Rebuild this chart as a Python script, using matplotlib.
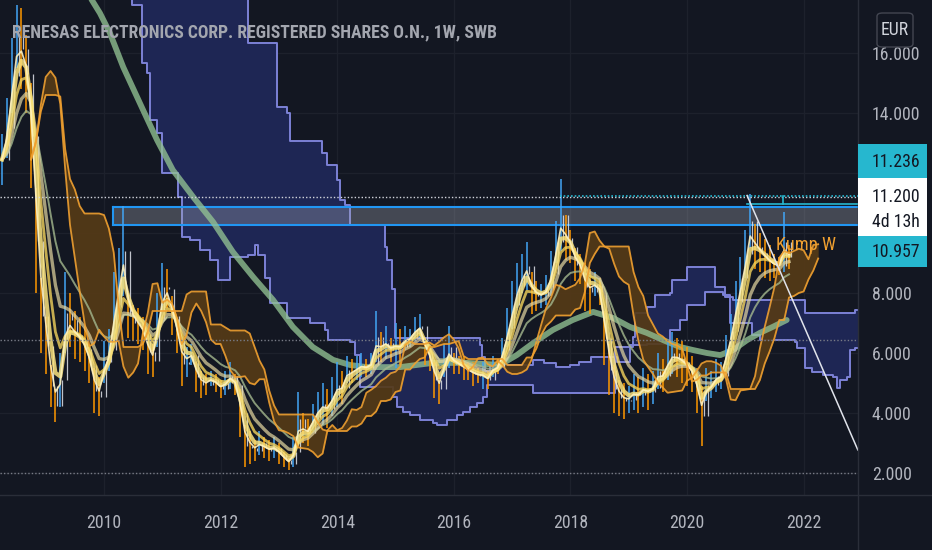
import numpy as np
import pandas as pd
import matplotlib
matplotlib.use("Agg")
import matplotlib.pyplot as plt
from matplotlib import font_manager
from matplotlib.font_manager import FontProperties
from matplotlib.patches import Rectangle, FancyBboxPatch

# ---- data --------------------------------------------------------------
# monthly bars, first one = April 2008
START = 2008.25
high = [13.3, 14.5, 16.5, 17.6, 17.5, 16.6, 15.0, 11.5, 8.5, 7.2, 5.6, 4.8,
        6.0, 8.7, 8.0, 7.4, 7.2, 6.9, 6.2, 5.5, 5.2, 6.4, 6.8, 8.7,
        9.5, 10.9, 8.0, 7.6, 7.5, 7.2, 6.8, 6.3, 8.0, 9.0, 8.8, 7.9,
        7.0, 6.4, 6.2, 6.3, 5.7, 5.4, 5.3, 5.4, 5.3, 5.1, 5.4, 5.7,
        5.3, 4.8, 3.6, 3.4, 3.1, 3.4, 3.2, 3.1, 3.2, 3.0, 2.7, 2.5,
        3.2, 4.7, 4.0, 3.8, 4.3, 4.7, 5.0, 4.8, 5.2, 5.7, 5.4, 5.9,
        5.8, 5.9, 6.0, 5.8, 6.0, 7.4, 6.7, 6.9, 6.5, 7.0, 6.8, 6.9,
        6.8, 7.2, 7.3, 6.5, 6.1, 5.7, 5.3, 6.3, 6.9, 6.0, 5.9, 5.9,
        5.7, 5.7, 5.5, 5.7, 5.4, 5.9, 5.8, 6.5, 7.5, 8.4, 9.0, 9.3,
        9.7, 8.7, 8.4, 8.3, 8.6, 9.4, 10.4, 11.8, 10.6, 10.1, 9.5, 9.3,
        9.0, 8.8, 8.7, 8.5, 7.4, 6.3, 5.6, 5.1, 5.0, 4.9, 5.3, 5.2,
        5.5, 5.3, 5.4, 6.0, 5.8, 6.4, 6.7, 6.5, 6.4, 6.2, 5.9, 5.5,
        4.9, 5.5, 5.4, 5.8, 5.7, 6.6, 7.3, 8.4, 9.2, 10.1, 11.3, 10.3,
        10.0, 9.8, 9.6, 9.3, 9.2, 10.7, 9.6]
low = [11.6, 12.5, 14.0, 15.5, 14.8, 14.0, 11.5, 8.0, 6.0, 5.3, 4.2, 3.7,
       4.2, 6.0, 6.2, 5.8, 5.7, 5.4, 5.0, 4.0, 3.9, 5.0, 5.4, 6.4,
       7.5, 7.9, 6.5, 6.4, 6.3, 6.1, 5.3, 5.2, 6.2, 7.4, 7.5, 6.6,
       6.0, 4.9, 5.2, 5.6, 4.7, 4.5, 4.6, 4.9, 4.7, 4.5, 4.6, 4.8,
       4.6, 3.2, 2.2, 2.3, 2.4, 2.6, 2.5, 2.4, 2.5, 2.3, 2.2, 2.1,
       2.2, 2.9, 3.0, 2.9, 3.4, 3.6, 3.6, 3.5, 3.9, 4.2, 4.3, 5.0,
       5.0, 5.1, 5.2, 5.2, 5.3, 5.7, 5.7, 5.8, 5.7, 5.5, 5.6, 6.1,
       6.2, 6.4, 6.5, 5.6, 5.4, 4.5, 4.3, 5.2, 5.5, 5.3, 5.3, 5.1,
       5.1, 4.9, 5.0, 4.8, 4.8, 5.2, 5.3, 5.7, 6.2, 6.8, 7.5, 8.0,
       8.1, 7.3, 7.4, 7.5, 7.6, 7.9, 9.0, 9.4, 9.1, 9.0, 8.4, 8.3,
       7.4, 7.3, 7.9, 7.6, 5.6, 4.6, 4.0, 3.9, 3.8, 4.0, 4.1, 4.0,
       4.2, 4.1, 4.3, 4.8, 4.7, 5.1, 5.3, 5.2, 5.0, 4.9, 4.7, 4.0,
       2.9, 4.4, 4.5, 4.7, 4.8, 5.6, 6.2, 7.0, 7.8, 8.5, 9.5, 8.8,
       8.7, 8.5, 8.4, 8.5, 8.6, 8.7, 8.8]

# long moving average (thick green)
green_x = [2009.67, 2009.79, 2009.93, 2010.10, 2010.33, 2010.67, 2010.91, 2011.18,
           2011.53, 2011.87, 2012.21, 2012.56, 2012.90, 2013.24, 2013.58, 2013.93,
           2014.22, 2014.51, 2015.08, 2015.64, 2016.23, 2016.79, 2017.08, 2017.36,
           2017.70, 2018.04, 2018.39, 2018.73, 2019.02, 2019.31, 2019.59, 2019.88,
           2020.10, 2020.34, 2020.57, 2020.79, 2021.03, 2021.25, 2021.47, 2021.71]
green_y = [18.27, 17.77, 17.33, 16.67, 15.53, 14.10, 13.10, 12.10,
           11.20, 10.37, 9.37, 8.53, 7.77, 6.87, 6.20, 5.77,
           5.60, 5.53, 5.53, 5.67, 5.67, 5.60, 5.93, 6.33,
           6.77, 7.10, 7.37, 7.17, 6.87, 6.67, 6.43, 6.20,
           6.10, 6.00, 5.93, 6.10, 6.43, 6.67, 6.87, 7.10]

# monthly cloud (step lines)
blue_top_x = [2008.0, 2012.47, 2012.97, 2013.14, 2013.19, 2013.74, 2013.83, 2014.0,
              2014.05, 2014.13, 2014.22, 2014.82, 2014.85, 2014.94, 2014.99, 2016.45,
              2016.48, 2016.54, 2016.62, 2017.36, 2017.55, 2017.75, 2018.0, 2018.15,
              2018.35, 2018.8, 2019.02, 2019.07, 2019.11, 2019.31, 2019.45, 2019.71,
              2019.74, 2020.0, 2020.48, 2020.65, 2020.79, 2022.02, 2022.88, 2023.0]
blue_top_y = [19.8, 16.33, 14.2, 14.0, 13.07, 12.67, 12.27, 11.77,
              11.1, 10.93, 10.27, 9.53, 9.1, 8.13, 6.5, 6.27,
              5.87, 5.4, 5.6, 5.77, 5.67, 5.53, 5.6, 5.7,
              5.87, 5.7, 6.2, 6.53, 7.33, 7.53, 7.93, 8.0,
              8.43, 8.87, 8.2, 7.87, 7.77, 7.33, 7.43, 7.43]
blue_bot_x = [2008.0, 2010.48, 2010.65, 2010.74, 2010.79, 2010.91, 2010.99, 2011.27,
              2011.34, 2011.48, 2011.65, 2011.82, 2011.96, 2012.16, 2012.47, 2012.59,
              2012.64, 2012.76, 2012.85, 2013.14, 2013.53, 2013.79, 2013.84, 2014.22,
              2014.31, 2014.39, 2014.96, 2015.03, 2015.13, 2015.25, 2015.42, 2015.64,
              2015.71, 2015.88, 2016.05, 2016.16, 2016.28, 2016.4, 2016.5, 2016.57,
              2017.36, 2018.77, 2019.02, 2019.31, 2019.66, 2019.71, 2019.88, 2020.0,
              2020.31, 2020.62, 2020.74, 2021.12, 2021.25, 2021.85, 2021.89, 2022.02,
              2022.14, 2022.33, 2022.5, 2022.57, 2022.62, 2022.74, 2022.8, 2022.88, 2023.0]
blue_bot_y = [19.0, 17.6, 15.67, 15.33, 13.77, 13.33, 12.0, 11.2,
              9.87, 9.77, 9.43, 9.1, 8.43, 9.2, 9.27, 9.6,
              9.27, 8.5, 7.67, 7.17, 7.0, 6.77, 6.43, 6.37,
              5.93, 4.87, 4.53, 4.2, 4.03, 3.93, 3.77, 3.67,
              3.6, 3.77, 3.93, 4.03, 4.2, 4.33, 4.53, 4.93,
              4.67, 6.2, 6.27, 6.3, 6.37, 6.77, 7.1, 7.6,
              8.03, 7.93, 7.0, 6.6, 6.43, 6.37, 6.17, 5.5,
              5.37, 5.27, 5.2, 4.83, 5.1, 5.2, 6.1, 6.17, 7.43]

zone_start, zone_lo, zone_hi = 2010.15, 10.27, 10.87
last_price, level_top, level_mid = 11.200, 11.236, 10.957
level_top_start, level_mid_start, marker_x = 2017.82, 2021.03, 2021.65
dotted_levels = [6.43, 2.0]
trend_x, trend_y = [2021.03, 2022.93], [11.25, 2.77]
year_ticks = [2010, 2012, 2014, 2016, 2018, 2020, 2022]
price_ticks = [2, 4, 6, 8, 10, 12, 14, 16]
hidden_ticks = [10, 12]
title = "RENESAS ELECTRONICS CORP. REGISTERED SHARES O.N., 1W, SWB"

# ---- style ---------------------------------------------------------------
W, H = 932, 550
BG = "#131722"
GRID = "#1d212c"
AXTXT = "#b2b5be"
CYAN = "#26b7cf"
BLUE = "#42a5f5"
ORANGE = "#ff9800"


def is_regular(f):
    return f.style == "normal" and f.weight in (400, "normal", "regular")


def pick_font():
    # a narrow face looks closest to the squeezed screenshot text
    entries = font_manager.fontManager.ttflist
    for want in ["Liberation Sans Narrow", "Roboto Condensed", "Open Sans Condensed",
                 "Noto Sans Condensed", "DejaVu Sans Condensed"]:
        for f in entries:
            if f.name == want and is_regular(f):
                return f
    for f in entries:
        if f.name in ("DejaVu Sans", "Noto Sans", "Roboto", "Open Sans") \
                and "condensed" in str(f.stretch) and is_regular(f):
            return f
    for f in entries:
        if ("Condensed" in f.name or "Narrow" in f.name) and f.style == "normal":
            return f
    return None


def bolder(base):
    # same family and width, heavier weight for the title
    if base is None:
        return FontProperties(family="DejaVu Sans", weight="bold")
    best = None
    for f in font_manager.fontManager.ttflist:
        if f.name == base.name and f.stretch == base.stretch and f.style == "normal":
            wt = f.weight if isinstance(f.weight, int) else {"bold": 700, "semibold": 600,
                                                             "medium": 500}.get(str(f.weight), 400)
            if 500 <= wt <= 700 and (best is None or abs(wt - 600) < abs(best[0] - 600)):
                best = (wt, f.fname)
    return FontProperties(fname=best[1]) if best else FontProperties(fname=base.fname)


BASE = pick_font()
FP = FontProperties(fname=BASE.fname) if BASE else FontProperties(family="DejaVu Sans")
FP_TITLE = bolder(BASE)

PX_YEAR = 58.3
X0 = 2008.216

fig = plt.figure(figsize=(W / 100, H / 100), dpi=100, facecolor=BG)
ax = fig.add_axes([0, 55 / H, 858 / W, 495 / H])
ax.set_facecolor(BG)
ax.set_xlim(X0, X0 + 858 / PX_YEAR)
ax.set_ylim(2 - 22 / 30, 2 + 473 / 30)
renderer = fig.canvas.get_renderer()


def fit_size(s, width_px, fp=FP):
    tmp = fig.text(0, 0, s, fontproperties=fp, fontsize=10)
    w = tmp.get_window_extent(renderer).width
    tmp.remove()
    return 10 * width_px / w


TICK_FS = min(fit_size("14.000", 48), 14)

# ---- blue (monthly) cloud -------------------------------------------------
def step_at(xs, ys, grid):
    idx = np.searchsorted(xs, grid, side="right") - 1
    return np.asarray(ys)[np.clip(idx, 0, len(ys) - 1)]

bx = np.array(sorted(set(blue_top_x) | set(blue_bot_x)))
ax.fill_between(bx, step_at(blue_top_x, blue_top_y, bx), step_at(blue_bot_x, blue_bot_y, bx),
                step="post", color="#1f2757", alpha=0.95, lw=0, zorder=1)
ax.step(blue_top_x, blue_top_y, where="post", color="#7c81d6", lw=1.4, zorder=2)
ax.step(blue_bot_x, blue_bot_y, where="post", color="#7c81d6", lw=1.4, zorder=2)

# ---- weekly kumo from the bars -------------------------------------------
hi = pd.Series(high, dtype=float)
lo = pd.Series(low, dtype=float)
t = START + np.arange(len(hi)) / 12

def donchian(n):
    return (hi.rolling(n, min_periods=1).max() + lo.rolling(n, min_periods=1).min()) / 2

span_a = (donchian(2) + donchian(6)) / 2
span_b = donchian(12)
t_kumo = t + 6 / 12
ax.fill_between(t_kumo, span_a, span_b, color="#553a17", alpha=0.92, lw=0, zorder=3)

# resistance zone
ax.add_patch(Rectangle((zone_start, zone_lo), 20, zone_hi - zone_lo, facecolor="#a9adb8",
                       alpha=0.33, edgecolor="none", zorder=4))
ax.plot([zone_start, 2030], [zone_hi, zone_hi], color="#2196f3", lw=1.5, zorder=4)
ax.plot([zone_start, 2030], [zone_lo, zone_lo], color="#2196f3", lw=1.5, zorder=4)
ax.plot([zone_start, zone_start], [zone_lo, zone_hi], color="#2196f3", lw=1.5, zorder=4)

# ---- moving averages -------------------------------------------------------
mid = (hi + lo) / 2
ax.plot(green_x, green_y, color="#92c293", lw=4.2, alpha=0.78, solid_capstyle="round", zorder=5)

# bars
opn = mid.shift(1).fillna(mid.iloc[0])
up = (mid >= opn).to_numpy()
ax.vlines(t, lo, hi, colors=np.where(up, BLUE, ORANGE), lw=1.1, zorder=6)
ax.vlines(t + 0.035, np.minimum(opn, mid), np.maximum(opn, mid), colors="#dfe2ea",
          lw=0.9, alpha=0.85, zorder=6)

def ema(n):
    return mid.ewm(span=n, adjust=False).mean()

ax.plot(t, ema(13), color="#a4b88e", lw=1.4, alpha=0.8, zorder=7)
ax.plot(t, ema(8), color="#e6d8a2", lw=2.4, alpha=0.7, zorder=7)
ax.plot(t, ema(5), color="#f3d35c", lw=2.0, alpha=0.8, zorder=7)
ax.plot(t, ema(3), color="#f9e27d", lw=3.0, alpha=0.85, zorder=7)
ax.plot(t, ema(2), color="#fff2bf", lw=1.2, alpha=0.9, zorder=7)

ax.plot(t_kumo, span_a, color="#f0a030", lw=1.3, alpha=0.9, zorder=8)
ax.plot(t_kumo, span_b, color="#f0a030", lw=1.3, alpha=0.9, zorder=8)

# ---- lines / drawings --------------------------------------------------------
for lv in dotted_levels:
    ax.axhline(lv, color="#787b86", lw=1, ls=(0, (1, 1.5)), zorder=8)
ax.axhline(last_price, color="#d1d4dc", lw=1, ls=(0, (1, 1.5)), zorder=8)
ax.plot([level_top_start, 2030], [level_top, level_top], color=CYAN, lw=1.2,
        ls=(0, (1, 1.2)), zorder=9)
ax.plot([level_mid_start, 2030], [level_mid, level_mid], color=CYAN, lw=1.2, zorder=9)
ax.plot([marker_x, marker_x], [level_mid, level_top], color=CYAN, lw=1.2, zorder=9)
ax.plot(trend_x, trend_y, color="#e0e3eb", lw=1.1, zorder=9)
ax.text(2021.52, 9.6, "Kump W", color="#f0a030", fontproperties=FP,
        fontsize=fit_size("Kump W", 60), va="center", ha="left", zorder=10)

# ---- axes ------------------------------------------------------------------
ax.set_xticks(year_ticks)
ax.set_xticklabels([str(y) for y in year_ticks], fontproperties=FP)
ax.set_yticks(price_ticks)
ax.set_yticklabels(["" if v in hidden_ticks else f"{v:.3f}" for v in price_ticks],
                   fontproperties=FP)
ax.yaxis.tick_right()
ax.tick_params(axis="y", length=0, pad=10, labelsize=TICK_FS, labelcolor=AXTXT)
ax.tick_params(axis="x", length=0, pad=14, labelsize=TICK_FS, labelcolor=AXTXT)
ax.grid(color=GRID, lw=1)
ax.set_axisbelow(True)
for s in ax.spines.values():
    s.set_visible(False)

def px(x, y):
    return x / W, 1 - y / H

fig.add_artist(plt.Line2D([858 / W, 858 / W], [0, 1], color="#2a2e39", lw=1))
fig.add_artist(plt.Line2D([0, 1], [55 / H, 55 / H], color="#2a2e39", lw=1))

# price label boxes on the scale
def box(y0, y1, color):
    x, y = px(858, y1)
    fig.add_artist(Rectangle((x, y), 69 / W, (y1 - y0) / H, transform=fig.transFigure,
                             facecolor=color, edgecolor="none", zorder=5))

box(144, 178, CYAN)
box(178, 236, "#ffffff")
box(236, 267, CYAN)
for txt, yy in [("11.236", 162), ("11.200", 197), ("4d 13h", 222), ("10.957", 252)]:
    fig.text(*px(872, yy), txt, color="#131722", fontproperties=FP, fontsize=TICK_FS,
             va="center", ha="left", zorder=6)

eur = FancyBboxPatch(px(877, 47), 36 / W, 34 / H, boxstyle="round,pad=0,rounding_size=0.006",
                     transform=fig.transFigure, facecolor=BG, edgecolor="#434651", lw=1, zorder=5)
fig.add_artist(eur)
fig.text(*px(895, 30), "EUR", color="#d1d4dc", fontproperties=FP, fontsize=TICK_FS,
         va="center", ha="center", zorder=6)

ttl = fig.text(*px(12, 32), title, color="#a3a6af", fontproperties=FP_TITLE,
               fontsize=fit_size(title, 485, FP_TITLE), va="center", ha="left", zorder=7)

fig.savefig("out.png", dpi=100, facecolor=BG)
